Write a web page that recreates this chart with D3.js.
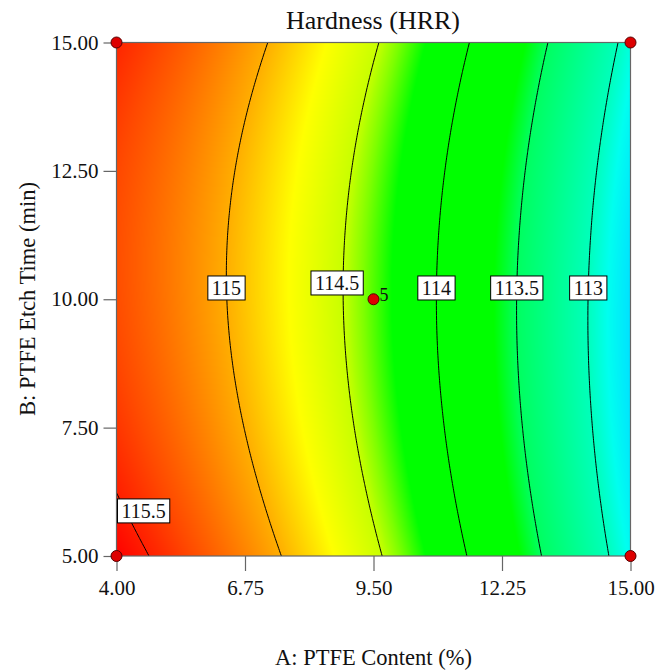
<!DOCTYPE html>
<html>
<head>
<meta charset="utf-8">
<script src="https://cdn.jsdelivr.net/npm/d3@7"></script>
</head>
<body style="margin:0;background:#fff">
<svg id="chart" width="657" height="670"></svg>
<script>
// ---------- data ----------
const aValues = [4, 5.375, 6.75, 8.125, 9.5, 10.875, 12.25, 13.625, 15];   // A: PTFE Content (%)
const bValues = [5, 7.5, 10, 12.5, 15];                                      // B: PTFE Etch Time (min)
// Hardness (HRR) estimated at each A for a given B
const hardnessB5    = [115.596, 115.396, 115.155, 114.872, 114.547, 114.180, 113.772, 113.322, 112.830];
const hardnessB7_5  = [115.425, 115.231, 114.996, 114.719, 114.400, 114.039, 113.637, 113.193, 112.707];
const hardnessB10   = [115.348, 115.160, 114.931, 114.660, 114.347, 113.992, 113.596, 113.158, 112.678];
const hardnessB12_5 = [115.367, 115.185, 114.962, 114.697, 114.390, 114.041, 113.651, 113.219, 112.745];
const hardnessB15   = [115.480, 115.304, 115.087, 114.828, 114.527, 114.184, 113.800, 113.374, 112.906];
const hardnessRows = [hardnessB5, hardnessB7_5, hardnessB10, hardnessB12_5, hardnessB15];

const contourLevels = [113, 113.5, 114, 114.5, 115, 115.5];
const xTicks = [4, 6.75, 9.5, 12.25, 15];
const yTicks = [5, 7.5, 10, 12.5, 15];

const pointA = [4, 15, 4, 15, 9.5];
const pointB = [5, 5, 15, 15, 10];
const pointCount = [1, 1, 1, 1, 5];

const colorStops  = [112.68, 112.85, 113.0, 113.5, 113.65, 114.25, 114.4, 114.5, 114.75, 115.0, 115.35, 115.6];
const colorValues = ["#00e2ff", "#00fff0", "#00ffbc", "#00ff60", "#00ff00", "#00ff00", "#80ff00", "#c8ff00", "#ffff00", "#ffae00", "#ff4c00", "#ff0000"];

// ---------- layout ----------
const FONT = "Liberation Serif";
const svg = d3.select("#chart");
const X0 = 116.5, X1 = 630.5, Y0 = 42.5, Y1 = 556;
const x = d3.scaleLinear().domain([4, 15]).range([X0, X1]);
const y = d3.scaleLinear().domain([5, 15]).range([Y1, Y0]);
const color = d3.scaleLinear().domain(colorStops).range(colorValues).clamp(true);

// ---------- smooth surface through the grid (Catmull-Rom, quadratic ends) ----------
function cr1(arr, u) {
  const n = arr.length;
  let i = Math.max(0, Math.min(Math.floor(u), n - 2));
  const t = u - i;
  const p = k => k < 0 ? 3 * arr[0] - 3 * arr[1] + arr[2]
               : k > n - 1 ? 3 * arr[n - 1] - 3 * arr[n - 2] + arr[n - 3]
               : arr[k];
  const p0 = p(i - 1), p1 = p(i), p2 = p(i + 1), p3 = p(i + 2);
  return 0.5 * (2 * p1 + (-p0 + p2) * t + (2 * p0 - 5 * p1 + 4 * p2 - p3) * t * t
               + (-p0 + 3 * p1 - 3 * p2 + p3) * t * t * t);
}
const uA = d3.scaleLinear().domain(d3.extent(aValues)).range([0, aValues.length - 1]);
const uB = d3.scaleLinear().domain(d3.extent(bValues)).range([0, bValues.length - 1]);
function columnAt(A) { const u = uA(A); return hardnessRows.map(r => cr1(r, u)); }
function surface(col, B) { return cr1(col, uB(B)); }

// ---------- colour raster ----------
const W = Math.round(X1 - X0), H = Math.round(Y1 - Y0);
const canvas = document.createElement("canvas");
canvas.width = W; canvas.height = H;
const ctx = canvas.getContext("2d");
const img = ctx.createImageData(W, H);
const lutN = 2048, hMin = colorStops[0], hMax = colorStops[colorStops.length - 1];
const lut = d3.range(lutN).map(i => d3.rgb(color(hMin + (hMax - hMin) * i / (lutN - 1))));
for (let px = 0; px < W; px++) {
  const A = x.invert(X0 + (px + 0.5) * (X1 - X0) / W);
  const col = columnAt(A);
  for (let py = 0; py < H; py++) {
    const B = y.invert(Y0 + (py + 0.5) * (Y1 - Y0) / H);
    const v = surface(col, B);
    let k = Math.round((v - hMin) / (hMax - hMin) * (lutN - 1));
    k = Math.max(0, Math.min(lutN - 1, k));
    const c = lut[k], o = (py * W + px) * 4;
    img.data[o] = c.r; img.data[o + 1] = c.g; img.data[o + 2] = c.b; img.data[o + 3] = 255;
  }
}
ctx.putImageData(img, 0, 0);

svg.append("defs").append("clipPath").attr("id", "plotClip")
  .append("rect").attr("x", X0).attr("y", Y0).attr("width", X1 - X0).attr("height", Y1 - Y0);

svg.append("image")
  .attr("x", X0).attr("y", Y0).attr("width", X1 - X0).attr("height", Y1 - Y0)
  .attr("preserveAspectRatio", "none")
  .attr("href", canvas.toDataURL());

// ---------- contours ----------
const nx = 206, ny = 206;
const gridA = d3.range(nx).map(i => 4 + 11 * i / (nx - 1));
const gridB = d3.range(ny).map(j => 15 - 10 * j / (ny - 1));
const values = new Array(nx * ny);
gridA.forEach((A, i) => {
  const col = columnAt(A);
  gridB.forEach((B, j) => { values[j * nx + i] = surface(col, B); });
});
const gx = d3.scaleLinear().domain([0.5, nx - 0.5]).range([X0, X1]);
const gy = d3.scaleLinear().domain([0.5, ny - 0.5]).range([Y0, Y1]);
const contours = d3.contours().size([nx, ny]).thresholds(contourLevels)(values);

const cg = svg.append("g").attr("clip-path", "url(#plotClip)");
contours.forEach(c => {
  let d = "";
  c.coordinates.forEach(poly => poly.forEach(ring => {
    d += "M" + ring.map(p => gx(p[0]).toFixed(2) + "," + gy(p[1]).toFixed(2)).join("L") + "Z";
  }));
  cg.append("path").attr("d", d).attr("fill", "none").attr("stroke", "#000").attr("stroke-width", 1);
});

// ---------- frame & axes ----------
svg.append("rect").attr("x", X0).attr("y", Y0).attr("width", X1 - X0).attr("height", Y1 - Y0)
  .attr("fill", "none").attr("stroke", "#666").attr("stroke-width", 1.2);

const xAxis = svg.append("g").attr("transform", `translate(0,${Y1})`)
  .call(d3.axisBottom(x).tickValues(xTicks).tickFormat(d3.format(".2f")).tickSize(15).tickPadding(9));
const yAxis = svg.append("g").attr("transform", `translate(${X0},0)`)
  .call(d3.axisLeft(y).tickValues(yTicks).tickFormat(d3.format(".2f")).tickSize(13).tickPadding(5));
[xAxis, yAxis].forEach(g => {
  g.attr("font-family", FONT).attr("font-size", 21);
  g.select(".domain").remove();
  g.selectAll(".tick line").attr("stroke", "#666").attr("stroke-width", 1.2);
  g.selectAll(".tick text").attr("font-size", 21).attr("font-family", FONT).attr("fill", "#111");
});

// ---------- contour labels ----------
const labelTargetB = level => level === 115.5 ? 5.88 : level === 114.5 ? 10.3 : 10.2;
const lg = svg.append("g");
contours.forEach(c => {
  const pts = [];
  c.coordinates.forEach(poly => poly.forEach(ring => ring.forEach(p => {
    const px = gx(p[0]), py = gy(p[1]);
    if (px > X0 + 1 && px < X1 - 1 && py > Y0 + 1 && py < Y1 - 1) pts.push([px, py]);
  })));
  if (!pts.length) return;
  const ty = y(labelTargetB(c.value));
  const best = d3.least(pts, p => Math.abs(p[1] - ty));
  let cx = best[0], cy = best[1];
  if (c.value === 114.5) cx -= 6;
  const g = lg.append("g");
  const t = g.append("text").attr("text-anchor", "middle").attr("dy", "0.35em")
    .attr("font-size", 20).attr("font-family", FONT).attr("fill", "#111").text(d3.format("")(c.value));
  const bb = t.node().getBBox();
  if (c.value === 115.5) cx = Math.max(cx, X0 + 1 + bb.width / 2 + 4);
  g.attr("transform", `translate(${cx},${cy})`);
  g.insert("rect", "text").attr("x", -bb.width / 2 - 4).attr("y", -12).attr("width", bb.width + 8).attr("height", 24)
    .attr("fill", "#fff").attr("stroke", "#000").attr("stroke-width", 1);
});

// ---------- design points ----------
const pts = svg.append("g");
pointA.forEach((a, i) => {
  pts.append("circle").attr("cx", x(a)).attr("cy", y(pointB[i])).attr("r", 5.5)
    .attr("fill", "#dd0000").attr("stroke", "#550000").attr("stroke-width", 1);
  if (pointCount[i] > 1) {
    pts.append("text").attr("x", x(a) + 6).attr("y", y(pointB[i]) + 1.5)
      .attr("font-size", 18).attr("font-family", FONT).attr("fill", "#111").text(pointCount[i]);
  }
});

// ---------- titles ----------
svg.append("text").attr("x", 373).attr("y", 29).attr("text-anchor", "middle")
  .attr("font-size", 26).attr("font-family", FONT).attr("fill", "#111").text("Hardness (HRR)");
svg.append("text").attr("x", 373.5).attr("y", 665).attr("text-anchor", "middle")
  .attr("font-size", 22.5).attr("font-family", FONT).attr("fill", "#111").text("A: PTFE Content (%)");
svg.append("text").attr("transform", "translate(35,299) rotate(-90)").attr("text-anchor", "middle")
  .attr("font-size", 22.5).attr("font-family", FONT).attr("fill", "#111").text("B: PTFE Etch Time (min)");
</script>
</body>
</html>
